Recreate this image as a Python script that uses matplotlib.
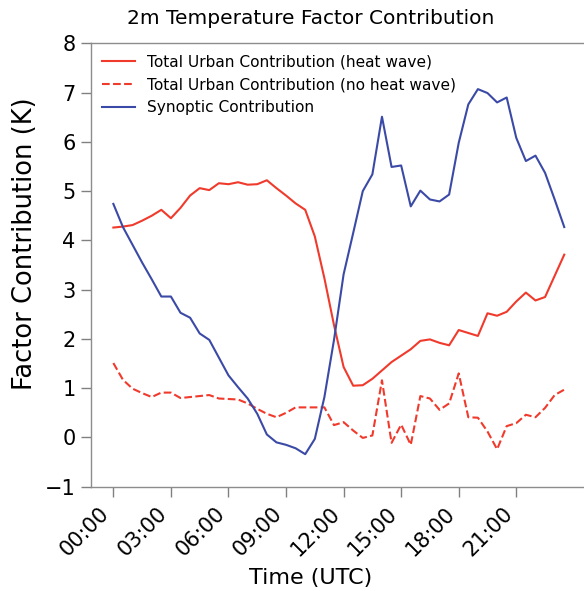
import numpy as np
import matplotlib
matplotlib.use("Agg")
import matplotlib.pyplot as plt

# Half-hourly times (hours UTC)
hours = np.arange(48) * 0.5

urban_heatwave = [
    4.26, 4.28, 4.31, 4.40, 4.50, 4.62, 4.45, 4.66, 4.91, 5.06, 5.02, 5.16,
    5.14, 5.18, 5.13, 5.14, 5.22, 5.06, 4.91, 4.75, 4.62, 4.08, 3.23, 2.28,
    1.43, 1.05, 1.06, 1.19, 1.36, 1.53, 1.66, 1.79, 1.96, 1.99, 1.92, 1.87,
    2.18, 2.12, 2.06, 2.52, 2.47, 2.55, 2.76, 2.94, 2.78, 2.85, 3.28, 3.71,
]

urban_no_heatwave = [
    1.51, 1.17, 0.99, 0.90, 0.82, 0.91, 0.91, 0.80, 0.82, 0.84, 0.86, 0.79,
    0.78, 0.77, 0.69, 0.58, 0.48, 0.41, 0.50, 0.61, 0.61, 0.61, 0.61, 0.25,
    0.31, 0.14, -0.01, 0.04, 1.16, -0.11, 0.26, -0.15, 0.84, 0.79, 0.56, 0.69,
    1.30, 0.41, 0.40, 0.12, -0.24, 0.23, 0.29, 0.46, 0.41, 0.60, 0.86, 0.97,
]

synoptic = [
    4.74, 4.27, 3.91, 3.55, 3.21, 2.86, 2.86, 2.53, 2.43, 2.11, 1.98, 1.62,
    1.26, 1.02, 0.79, 0.48, 0.06, -0.10, -0.15, -0.22, -0.34, -0.03, 0.82, 1.98,
    3.31, 4.15, 5.00, 5.34, 6.51, 5.49, 5.52, 4.69, 5.01, 4.83, 4.79, 4.93,
    5.98, 6.76, 7.07, 6.99, 6.80, 6.90, 6.08, 5.61, 5.72, 5.37, 4.83, 4.27,
]

tick_hours = [0, 3, 6, 9, 12, 15, 18, 21]
tick_labels = ["00:00", "03:00", "06:00", "09:00", "12:00", "15:00", "18:00", "21:00"]

RED = "#f03a2c"
BLUE = "#3b4aa6"

fig = plt.figure(figsize=(5.84, 5.91), dpi=100)
ax = fig.add_axes([90.8 / 584, 1 - 486.7 / 591, 496 / 584, 443.4 / 591])

ax.plot(hours, urban_heatwave, color=RED, lw=1.5,
        label="Total Urban Contribution (heat wave)")
ax.plot(hours, urban_no_heatwave, color=RED, lw=1.5, ls="--",
        label="Total Urban Contribution (no heat wave)")
ax.plot(hours, synoptic, color=BLUE, lw=1.5, label="Synoptic Contribution")

ax.set_ylim(-1, 8)
ax.set_yticks(range(-1, 9))
ax.set_xticks(tick_hours)
ax.set_xticklabels(tick_labels, rotation=45, ha="right")
ax.tick_params(axis="both", direction="out", length=7, width=1, color="0.5",
               labelsize=15, pad=4)
ax.tick_params(axis="x", pad=5)
for sp in ax.spines.values():
    sp.set_color("0.55")
    sp.set_linewidth(1)

ax.legend(loc="upper left", frameon=False, fontsize=11.1,
          handlelength=2.1, borderaxespad=0.35, labelspacing=0.5)

fig.text(311 / 584, 1 - 18 / 591, "2m Temperature Factor Contribution",
         ha="center", va="center", fontsize=14.5)
fig.text(311 / 584, 1 - 578 / 591, "Time (UTC)", ha="center", va="center",
         fontsize=16)
fig.text(25 / 584, 1 - 243.5 / 591, "Factor Contribution (K)", ha="center",
         va="center", rotation=90, fontsize=18.5)

fig.savefig("out.png", dpi=100)
